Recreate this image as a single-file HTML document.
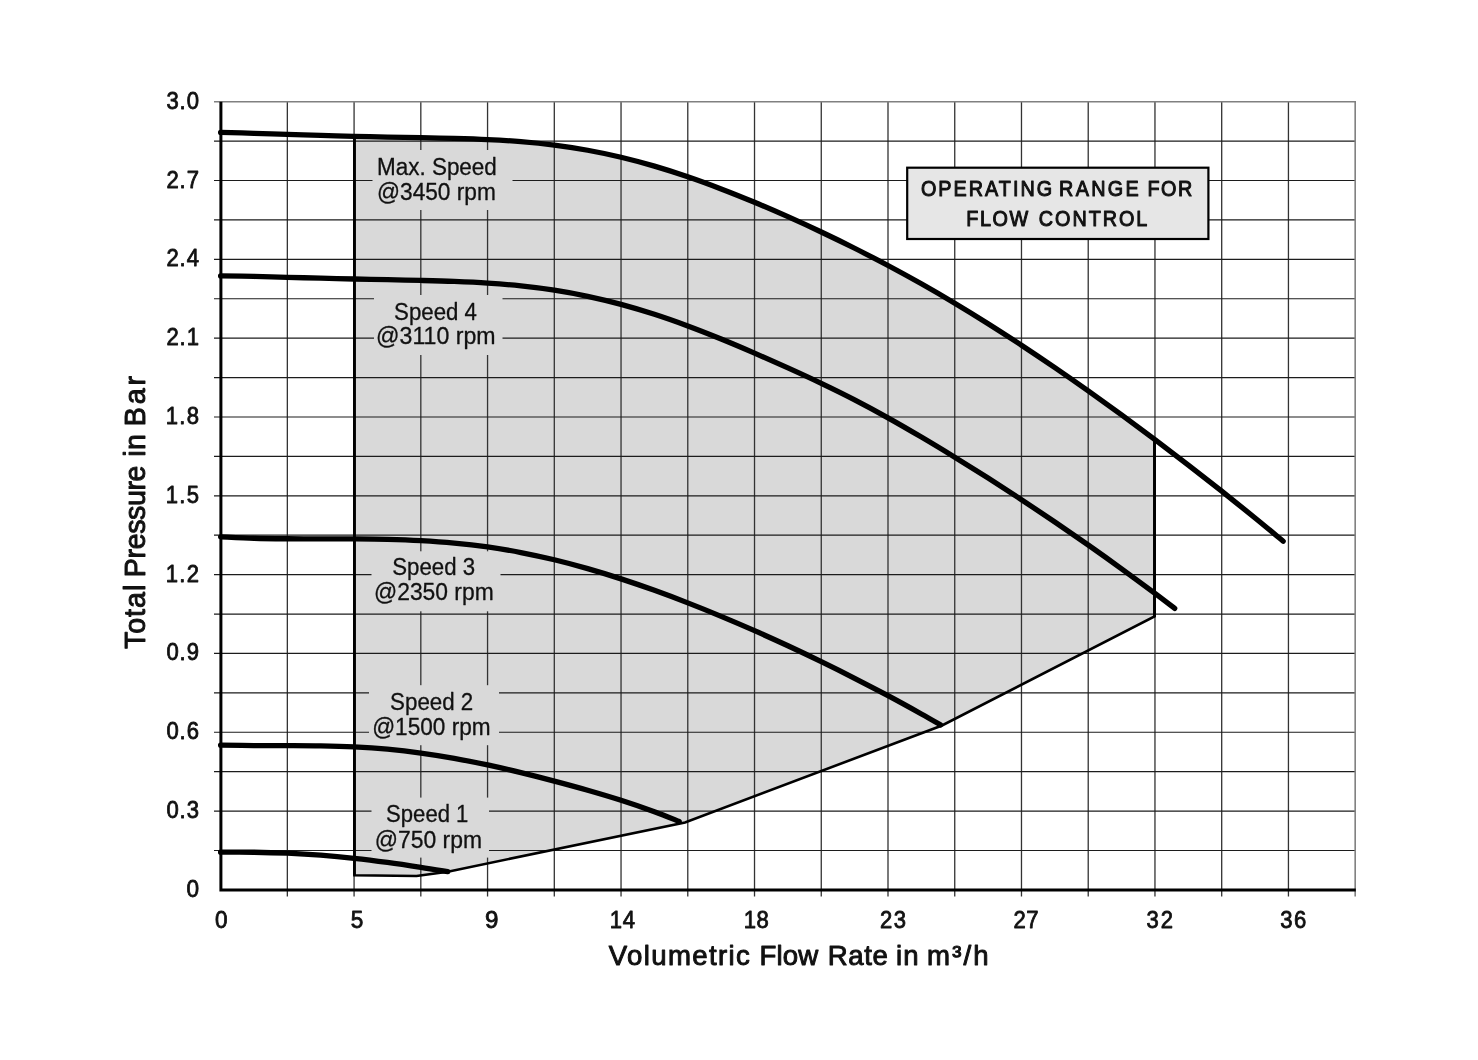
<!DOCTYPE html>
<html lang="en"><head><meta charset="utf-8"><title>Pump curve</title>
<style>html,body{margin:0;padding:0;background:#fff}svg{display:block}text{font-family:"Liberation Sans",sans-serif;fill:#111}</style></head><body>
<svg width="1478" height="1060" viewBox="0 0 1478 1060">
<rect width="1478" height="1060" fill="#fff"/>
<path d="M354.40,875.20 L354.08,136.37 C365.20,136.64 376.33,136.86 387.45,137.08 C398.57,137.30 409.70,137.47 420.82,137.69 C431.94,137.91 443.07,138.09 454.19,138.40 C465.31,138.71 476.44,139.03 487.56,139.57 C498.68,140.11 509.81,140.74 520.93,141.66 C532.05,142.58 543.18,143.68 554.30,145.11 C565.42,146.54 576.55,148.23 587.67,150.26 C598.79,152.28 609.92,154.61 621.04,157.26 C632.16,159.91 643.29,162.89 654.41,166.14 C665.53,169.39 676.66,172.98 687.78,176.78 C698.90,180.58 710.03,184.68 721.15,188.93 C732.27,193.18 743.40,197.67 754.52,202.29 C765.64,206.91 776.77,211.72 787.89,216.67 C799.01,221.62 810.14,226.73 821.26,231.99 C832.38,237.25 843.51,242.66 854.63,248.25 C865.75,253.84 876.88,259.57 888.00,265.50 C899.12,271.43 910.25,277.52 921.37,283.80 C932.49,290.08 943.62,296.55 954.74,303.19 C965.86,309.83 976.99,316.67 988.11,323.67 C999.23,330.67 1010.36,337.85 1021.48,345.18 C1032.60,352.51 1043.73,360.01 1054.85,367.63 C1065.97,375.25 1077.10,383.03 1088.22,390.91 C1099.34,398.79 1110.47,406.81 1121.59,414.93 C1132.71,423.06 1143.84,431.31 1154.96,439.66 L1154.50,616.40 L942,725.5 L685,822.4 L447.8,871.7 L416.5,876 Z" fill="#d9d9d9"/>
<path d="M287.34,101.70 V896.60 M354.08,101.70 V896.60 M420.82,101.70 V896.60 M487.56,101.70 V896.60 M554.30,101.70 V896.60 M621.04,101.70 V896.60 M687.78,101.70 V896.60 M754.52,101.70 V896.60 M821.26,101.70 V896.60 M888.00,101.70 V896.60 M954.74,101.70 V896.60 M1021.48,101.70 V896.60 M1088.22,101.70 V896.60 M1154.96,101.70 V896.60 M1221.70,101.70 V896.60 M1288.44,101.70 V896.60" stroke="#333" stroke-width="1.3" fill="none"/>
<path d="M214.00,850.49 H1355.18 M214.00,811.08 H1355.18 M214.00,771.67 H1355.18 M214.00,732.26 H1355.18 M214.00,692.85 H1355.18 M214.00,653.44 H1355.18 M214.00,614.03 H1355.18 M214.00,574.62 H1355.18 M214.00,535.21 H1355.18 M214.00,495.80 H1355.18 M214.00,456.39 H1355.18 M214.00,416.98 H1355.18 M214.00,377.57 H1355.18 M214.00,338.16 H1355.18 M214.00,298.75 H1355.18 M214.00,259.34 H1355.18 M214.00,219.93 H1355.18 M214.00,180.52 H1355.18 M214.00,141.11 H1355.18" stroke="#1c1c1c" stroke-width="1.2" fill="none"/>
<path d="M214,101.70 H1355.18 V896.6" stroke="#808080" stroke-width="1.6" fill="none"/>
<rect x="372.5" y="150.0" width="140.0" height="60.0" fill="#d9d9d9"/>
<rect x="374.0" y="295.0" width="128.5" height="60.0" fill="#d9d9d9"/>
<rect x="371.5" y="551.3" width="129.0" height="60.0" fill="#d9d9d9"/>
<rect x="369.0" y="685.2" width="130.0" height="60.0" fill="#d9d9d9"/>
<rect x="371.5" y="797.6" width="117.5" height="60.0" fill="#d9d9d9"/>
<path d="M354.40,136.30 L354.40,875.2 L416.5,876 L447.8,871.7 L685,822.4 L942,725.5 L1154.50,616.4 L1154.50,439.6" stroke="#000" stroke-width="2.6" fill="none" stroke-linejoin="miter"/>
<path d="M354.40,134 V875.2 M1154.50,439.6 V617" stroke="#000" stroke-width="2.8" fill="none"/>
<path d="M220.90,101.70 V889.90 H1355.78" stroke="#000" stroke-width="3" fill="none" stroke-linejoin="miter"/>
<path d="M220.60,132.46 C226.16,132.60 242.85,132.96 253.97,133.28 C265.09,133.60 276.22,134.01 287.34,134.37 C298.46,134.73 309.59,135.13 320.71,135.46 C331.83,135.79 342.96,136.10 354.08,136.37 C365.20,136.64 376.33,136.86 387.45,137.08 C398.57,137.30 409.70,137.47 420.82,137.69 C431.94,137.91 443.07,138.09 454.19,138.40 C465.31,138.71 476.44,139.03 487.56,139.57 C498.68,140.11 509.81,140.74 520.93,141.66 C532.05,142.58 543.18,143.68 554.30,145.11 C565.42,146.54 576.55,148.23 587.67,150.26 C598.79,152.28 609.92,154.61 621.04,157.26 C632.16,159.91 643.29,162.89 654.41,166.14 C665.53,169.39 676.66,172.98 687.78,176.78 C698.90,180.58 710.03,184.68 721.15,188.93 C732.27,193.18 743.40,197.67 754.52,202.29 C765.64,206.91 776.77,211.72 787.89,216.67 C799.01,221.62 810.14,226.73 821.26,231.99 C832.38,237.25 843.51,242.66 854.63,248.25 C865.75,253.84 876.88,259.57 888.00,265.50 C899.12,271.43 910.25,277.52 921.37,283.80 C932.49,290.08 943.62,296.55 954.74,303.19 C965.86,309.83 976.99,316.67 988.11,323.67 C999.23,330.67 1010.36,337.85 1021.48,345.18 C1032.60,352.51 1043.73,360.01 1054.85,367.63 C1065.97,375.25 1077.10,383.03 1088.22,390.91 C1099.34,398.79 1110.47,406.81 1121.59,414.93 C1132.71,423.06 1143.84,431.31 1154.96,439.66 C1166.08,448.02 1177.21,456.48 1188.33,465.06 C1199.45,473.64 1210.58,482.34 1221.70,491.16 C1232.82,499.98 1244.82,509.64 1255.07,517.98 C1265.32,526.32 1278.51,537.33 1283.20,541.20" stroke="#000" stroke-width="5.3" fill="none" stroke-linecap="round"/>
<path d="M220.60,275.84 C226.16,275.94 242.85,276.22 253.97,276.47 C265.09,276.72 276.22,277.04 287.34,277.33 C298.46,277.62 309.59,277.93 320.71,278.21 C331.83,278.49 342.96,278.74 354.08,278.99 C365.20,279.24 376.33,279.46 387.45,279.70 C398.57,279.94 409.70,280.15 420.82,280.44 C431.94,280.73 443.07,281.01 454.19,281.46 C465.31,281.91 476.44,282.39 487.56,283.13 C498.68,283.87 509.81,284.71 520.93,285.89 C532.05,287.06 543.18,288.44 554.30,290.18 C565.42,291.92 576.55,293.94 587.67,296.30 C598.79,298.66 609.92,301.36 621.04,304.36 C632.16,307.36 643.29,310.71 654.41,314.31 C665.53,317.91 676.66,321.85 687.78,325.97 C698.90,330.09 710.03,334.49 721.15,339.01 C732.27,343.53 743.40,348.30 754.52,353.12 C765.64,357.94 776.77,362.89 787.89,367.93 C799.01,372.97 810.14,378.05 821.26,383.38 C832.38,388.71 843.51,394.14 854.63,399.89 C865.75,405.64 876.88,411.66 888.00,417.86 C899.12,424.06 910.25,430.53 921.37,437.09 C932.49,443.65 943.62,450.39 954.74,457.22 C965.86,464.05 976.99,471.01 988.11,478.08 C999.23,485.15 1010.36,492.35 1021.48,499.66 C1032.60,506.98 1043.73,514.41 1054.85,521.97 C1065.97,529.53 1077.10,537.21 1088.22,545.01 C1099.34,552.81 1110.47,560.72 1121.59,568.79 C1132.71,576.86 1146.11,586.79 1154.96,593.40 C1163.81,600.01 1171.41,605.93 1174.70,608.44" stroke="#000" stroke-width="5.3" fill="none" stroke-linecap="round"/>
<path d="M220.60,536.87 C226.16,537.10 242.85,537.94 253.97,538.26 C265.09,538.58 276.22,538.67 287.34,538.77 C298.46,538.87 309.59,538.83 320.71,538.86 C331.83,538.89 342.96,538.85 354.08,538.94 C365.20,539.04 376.33,539.13 387.45,539.43 C398.57,539.72 409.70,540.10 420.82,540.71 C431.94,541.33 443.07,542.07 454.19,543.12 C465.31,544.17 476.44,545.42 487.56,546.99 C498.68,548.56 509.81,550.40 520.93,552.53 C532.05,554.66 543.18,557.10 554.30,559.79 C565.42,562.48 576.55,565.47 587.67,568.65 C598.79,571.83 609.92,575.27 621.04,578.89 C632.16,582.51 643.29,586.35 654.41,590.35 C665.53,594.35 676.66,598.55 687.78,602.88 C698.90,607.21 710.03,611.71 721.15,616.34 C732.27,620.97 743.40,625.75 754.52,630.66 C765.64,635.56 776.77,640.61 787.89,645.77 C799.01,650.93 810.14,656.23 821.26,661.65 C832.38,667.07 843.51,672.60 854.63,678.28 C865.75,683.96 876.88,689.76 888.00,695.71 C899.12,701.66 912.62,709.12 921.37,713.98 C930.12,718.84 937.31,723.06 940.50,724.87" stroke="#000" stroke-width="5.3" fill="none" stroke-linecap="round"/>
<path d="M220.60,745.09 C226.16,745.18 242.85,745.53 253.97,745.61 C265.09,745.69 276.22,745.56 287.34,745.59 C298.46,745.62 309.59,745.60 320.71,745.82 C331.83,746.04 342.96,746.33 354.08,746.90 C365.20,747.47 376.33,748.20 387.45,749.22 C398.57,750.24 409.70,751.50 420.82,753.01 C431.94,754.52 443.07,756.32 454.19,758.31 C465.31,760.30 476.44,762.57 487.56,764.96 C498.68,767.35 509.81,769.96 520.93,772.65 C532.05,775.34 543.18,778.16 554.30,781.09 C565.42,784.02 576.55,787.03 587.67,790.22 C598.79,793.41 609.92,796.69 621.04,800.26 C632.16,803.83 644.72,808.13 654.41,811.66 C664.10,815.19 675.07,819.80 679.20,821.43" stroke="#000" stroke-width="5.3" fill="none" stroke-linecap="round"/>
<path d="M220.60,852.20 C226.16,852.21 242.85,852.07 253.97,852.24 C265.09,852.41 276.22,852.71 287.34,853.21 C298.46,853.71 309.59,854.37 320.71,855.22 C331.83,856.07 342.96,857.10 354.08,858.29 C365.20,859.48 376.33,860.87 387.45,862.36 C398.57,863.86 410.76,865.71 420.82,867.26 C430.88,868.81 443.30,870.94 447.80,871.68" stroke="#000" stroke-width="5.3" fill="none" stroke-linecap="round"/>
<rect x="907.2" y="167.7" width="301.2" height="71.3" fill="#e6e6e6" stroke="#000" stroke-width="2.2"/>
<text transform="scale(0.880,1)" font-size="22.5" stroke="#111" stroke-width="1.05" stroke-linejoin="round"><tspan x="1046.48" y="196.00" textLength="149.20" lengthAdjust="spacing">OPERATING</tspan> <tspan x="1203.55" y="196.00" textLength="90.36" lengthAdjust="spacing">RANGE</tspan> <tspan x="1303.95" y="196.00" textLength="50.91" lengthAdjust="spacing">FOR</tspan></text>
<text transform="scale(0.880,1)" font-size="22.5" stroke="#111" stroke-width="1.05" stroke-linejoin="round"><tspan x="1098.07" y="226.10" textLength="70.36" lengthAdjust="spacing">FLOW</tspan> <tspan x="1180.52" y="226.10" textLength="123.25" lengthAdjust="spacing">CONTROL</tspan></text>
<text font-size="23.0" stroke="#111" stroke-width="0.30" stroke-linejoin="round"><tspan x="377.02" y="174.70" textLength="119.82" lengthAdjust="spacingAndGlyphs">Max. Speed</tspan> <tspan x="377.02" y="199.50" textLength="118.82" lengthAdjust="spacingAndGlyphs">@3450 rpm</tspan></text>
<text font-size="23.0" stroke="#111" stroke-width="0.30" stroke-linejoin="round"><tspan x="394.12" y="319.50" textLength="82.84" lengthAdjust="spacingAndGlyphs">Speed 4</tspan> <tspan x="376.02" y="344.10" textLength="119.54" lengthAdjust="spacingAndGlyphs">@3110 rpm</tspan></text>
<text font-size="23.0" stroke="#111" stroke-width="0.30" stroke-linejoin="round"><tspan x="392.30" y="575.10" textLength="82.76" lengthAdjust="spacingAndGlyphs">Speed 3</tspan> <tspan x="374.02" y="600.10" textLength="119.64" lengthAdjust="spacingAndGlyphs">@2350 rpm</tspan></text>
<text font-size="23.0" stroke="#111" stroke-width="0.30" stroke-linejoin="round"><tspan x="390.12" y="709.60" textLength="83.16" lengthAdjust="spacingAndGlyphs">Speed 2</tspan> <tspan x="372.20" y="734.50" textLength="118.36" lengthAdjust="spacingAndGlyphs">@1500 rpm</tspan></text>
<text font-size="23.0" stroke="#111" stroke-width="0.30" stroke-linejoin="round"><tspan x="386.12" y="822.20" textLength="82.26" lengthAdjust="spacingAndGlyphs">Speed 1</tspan> <tspan x="374.70" y="847.90" textLength="107.28" lengthAdjust="spacingAndGlyphs">@750 rpm</tspan></text>
<text transform="scale(0.920,1)" font-size="24.0" stroke="#111" stroke-width="0.85" stroke-linejoin="round"><tspan x="202.61" y="896.90" textLength="13.65" lengthAdjust="spacingAndGlyphs">0</tspan></text>
<text transform="scale(0.920,1)" font-size="24.0" stroke="#111" stroke-width="0.85" stroke-linejoin="round"><tspan x="180.87" y="818.08" textLength="35.39" lengthAdjust="spacing">0.3</tspan></text>
<text transform="scale(0.920,1)" font-size="24.0" stroke="#111" stroke-width="0.85" stroke-linejoin="round"><tspan x="180.87" y="739.26" textLength="35.39" lengthAdjust="spacing">0.6</tspan></text>
<text transform="scale(0.920,1)" font-size="24.0" stroke="#111" stroke-width="0.85" stroke-linejoin="round"><tspan x="180.87" y="660.44" textLength="35.39" lengthAdjust="spacing">0.9</tspan></text>
<text transform="scale(0.920,1)" font-size="24.0" stroke="#111" stroke-width="0.85" stroke-linejoin="round"><tspan x="180.22" y="581.62" textLength="36.04" lengthAdjust="spacing">1.2</tspan></text>
<text transform="scale(0.920,1)" font-size="24.0" stroke="#111" stroke-width="0.85" stroke-linejoin="round"><tspan x="180.22" y="502.80" textLength="36.04" lengthAdjust="spacing">1.5</tspan></text>
<text transform="scale(0.920,1)" font-size="24.0" stroke="#111" stroke-width="0.85" stroke-linejoin="round"><tspan x="180.22" y="423.98" textLength="36.04" lengthAdjust="spacing">1.8</tspan></text>
<text transform="scale(0.920,1)" font-size="24.0" stroke="#111" stroke-width="0.85" stroke-linejoin="round"><tspan x="180.87" y="345.16" textLength="35.39" lengthAdjust="spacing">2.1</tspan></text>
<text transform="scale(0.920,1)" font-size="24.0" stroke="#111" stroke-width="0.85" stroke-linejoin="round"><tspan x="180.87" y="266.34" textLength="35.39" lengthAdjust="spacing">2.4</tspan></text>
<text transform="scale(0.920,1)" font-size="24.0" stroke="#111" stroke-width="0.85" stroke-linejoin="round"><tspan x="180.87" y="187.52" textLength="35.39" lengthAdjust="spacing">2.7</tspan></text>
<text transform="scale(0.920,1)" font-size="24.0" stroke="#111" stroke-width="0.85" stroke-linejoin="round"><tspan x="180.87" y="108.70" textLength="35.39" lengthAdjust="spacing">3.0</tspan></text>
<text transform="scale(0.920,1)" font-size="24.0" stroke="#111" stroke-width="0.85" stroke-linejoin="round"><tspan x="233.78" y="928.40" textLength="13.65" lengthAdjust="spacingAndGlyphs">0</tspan></text>
<text transform="scale(0.920,1)" font-size="24.0" stroke="#111" stroke-width="0.85" stroke-linejoin="round"><tspan x="381.22" y="928.40" textLength="13.65" lengthAdjust="spacingAndGlyphs">5</tspan></text>
<text transform="scale(0.920,1)" font-size="24.0" stroke="#111" stroke-width="0.85" stroke-linejoin="round"><tspan x="527.26" y="928.40" textLength="14.61" lengthAdjust="spacingAndGlyphs">9</tspan></text>
<text transform="scale(0.920,1)" font-size="24.0" stroke="#111" stroke-width="0.85" stroke-linejoin="round"><tspan x="662.87" y="928.40" textLength="27.30" lengthAdjust="spacing">14</tspan></text>
<text transform="scale(0.920,1)" font-size="24.0" stroke="#111" stroke-width="0.85" stroke-linejoin="round"><tspan x="808.48" y="928.40" textLength="27.30" lengthAdjust="spacing">18</tspan></text>
<text transform="scale(0.920,1)" font-size="24.0" stroke="#111" stroke-width="0.85" stroke-linejoin="round"><tspan x="956.41" y="928.40" textLength="28.43" lengthAdjust="spacing">23</tspan></text>
<text transform="scale(0.920,1)" font-size="24.0" stroke="#111" stroke-width="0.85" stroke-linejoin="round"><tspan x="1101.52" y="928.40" textLength="27.39" lengthAdjust="spacing">27</tspan></text>
<text transform="scale(0.920,1)" font-size="24.0" stroke="#111" stroke-width="0.85" stroke-linejoin="round"><tspan x="1246.21" y="928.40" textLength="28.93" lengthAdjust="spacing">32</tspan></text>
<text transform="scale(0.920,1)" font-size="24.0" stroke="#111" stroke-width="0.85" stroke-linejoin="round"><tspan x="1391.54" y="928.40" textLength="28.48" lengthAdjust="spacing">36</tspan></text>
<text font-size="27.6" stroke="#111" stroke-width="0.95" stroke-linejoin="round"><tspan x="608.82" y="965.00" textLength="141.00" lengthAdjust="spacing">Volumetric</tspan> <tspan x="759.56" y="965.00" textLength="58.66" lengthAdjust="spacing">Flow</tspan> <tspan x="827.70" y="965.00" textLength="60.04" lengthAdjust="spacing">Rate</tspan> <tspan x="896.02" y="965.00" textLength="22.50" lengthAdjust="spacing">in</tspan> <tspan x="926.98" y="965.00" textLength="61.72" lengthAdjust="spacing">m³/h</tspan></text>
<text transform="translate(145.40,648.50) rotate(-90)" font-size="28.6" stroke="#111" stroke-width="0.95" stroke-linejoin="round"><tspan x="-0.60" y="0.00" textLength="64.44" lengthAdjust="spacing">Total</tspan> <tspan x="71.38" y="0.00" textLength="111.54" lengthAdjust="spacing">Pressure</tspan> <tspan x="191.66" y="0.00" textLength="22.82" lengthAdjust="spacing">in</tspan> <tspan x="222.38" y="0.00" textLength="50.12" lengthAdjust="spacing">Bar</tspan></text>
</svg></body></html>
